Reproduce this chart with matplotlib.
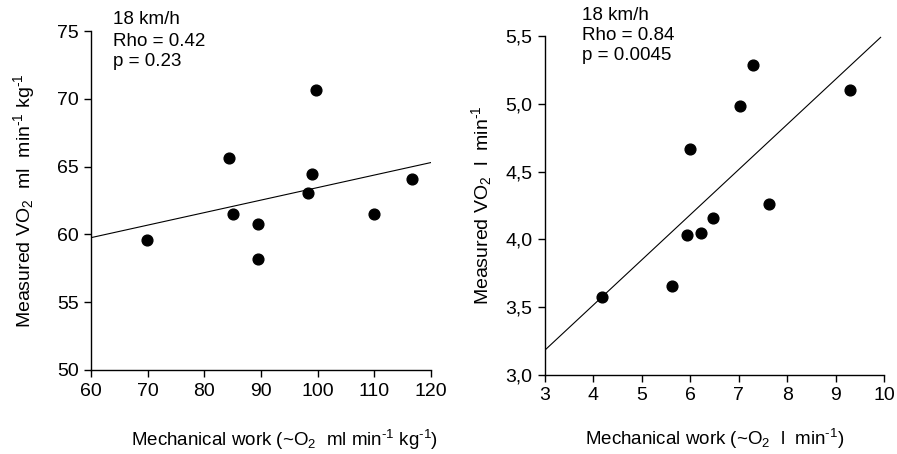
import matplotlib
matplotlib.use("Agg")
import matplotlib.pyplot as plt

plt.rcParams['font.family'] = ['Liberation Sans', 'DejaVu Sans']
plt.rcParams['mathtext.fontset'] = 'custom'
plt.rcParams['mathtext.rm'] = 'Liberation Sans'
plt.rcParams['mathtext.it'] = 'Liberation Sans'
plt.rcParams['mathtext.default'] = 'regular'

# Left panel data (relative)
left_x = [69.8, 84.4, 85.0, 89.5, 89.5, 98.35, 99.06, 99.65, 110.0, 116.6]
left_y = [59.6, 65.66, 61.48, 60.77, 58.19, 63.05, 64.45, 70.65, 61.48, 64.06]
left_fit_x = [60, 120]
left_fit_y = [59.76, 65.3]
left_xticks = [60, 70, 80, 90, 100, 110, 120]
left_yticks = [50, 55, 60, 65, 70, 75]
left_ytick_labels = ['50', '55', '60', '65', '70', '75']
left_text = ['18 km/h', 'Rho = 0.42', 'p = 0.23']

# Right panel data (absolute)
right_x = [4.18, 5.63, 5.94, 5.985, 6.22, 6.47, 7.02, 7.30, 7.62, 9.29]
right_y = [3.572, 3.658, 4.031, 4.665, 4.05, 4.159, 4.984, 5.284, 4.26, 5.105]
right_fit_x = [3, 9.93]
right_fit_y = [3.184, 5.49]
right_xticks = [3, 4, 5, 6, 7, 8, 9, 10]
right_yticks = [3.0, 3.5, 4.0, 4.5, 5.0, 5.5]
right_ytick_labels = ['3,0', '3,5', '4,0', '4,5', '5,0', '5,5']
right_text = ['18 km/h', 'Rho = 0.84', 'p = 0.0045']

fig = plt.figure(figsize=(8.97, 4.54), dpi=100)
ax1 = fig.add_axes([91/897, 1-370/454, 340/897, 339/454])
ax2 = fig.add_axes([545/897, 1-375/454, 339/897, 339/454])

TFS = 14
LFS = 13.5

def style(ax):
    ax.spines['top'].set_visible(False)
    ax.spines['right'].set_visible(False)
    ax.spines['left'].set_linewidth(1.0)
    ax.spines['bottom'].set_linewidth(1.0)
    ax.tick_params(direction='out', length=5, width=1.0, labelsize=TFS, pad=4)

M = r'\text{-}1'

# Left
ax1.scatter(left_x, left_y, s=60, color='black', zorder=3)
ax1.plot(left_fit_x, left_fit_y, color='black', lw=0.8)
ax1.set_xlim(60, 120)
ax1.set_ylim(50, 75)
ax1.set_xticks(left_xticks)
ax1.set_yticks(left_yticks)
ax1.set_yticklabels(left_ytick_labels)
style(ax1)
ax1.set_xlabel(r'Mechanical work (~O$_2$  ml min$^{%s}$ kg$^{%s}$)' % (M, M), fontsize=LFS)
ax1.xaxis.set_label_coords(0.57, -0.17)
ax1.set_ylabel(r'Measured VO$_2$  ml  min$^{%s}$ kg$^{%s}$' % (M, M), fontsize=14, labelpad=14)
for i, t in enumerate(left_text):
    fig.text(113/897, 1-(20+21*i)/454, t, fontsize=LFS, va='center', ha='left')

# Right
ax2.scatter(right_x, right_y, s=60, color='black', zorder=3)
ax2.plot(right_fit_x, right_fit_y, color='black', lw=0.8)
ax2.set_xlim(3, 10)
ax2.set_ylim(3.0, 5.5)
ax2.set_xticks(right_xticks)
ax2.set_yticks(right_yticks)
ax2.set_yticklabels(right_ytick_labels)
style(ax2)
ax2.set_xlabel(r'Mechanical work (~O$_2$  l  min$^{%s}$)' % M, fontsize=LFS, labelpad=16)
ax2.set_ylabel(r'Measured VO$_2$  l  min$^{%s}$' % M, fontsize=14, labelpad=8)
for i, t in enumerate(right_text):
    fig.text(582/897, 1-(15+20.5*i)/454, t, fontsize=LFS, va='center', ha='left')

fig.savefig('out.png', dpi=100)
